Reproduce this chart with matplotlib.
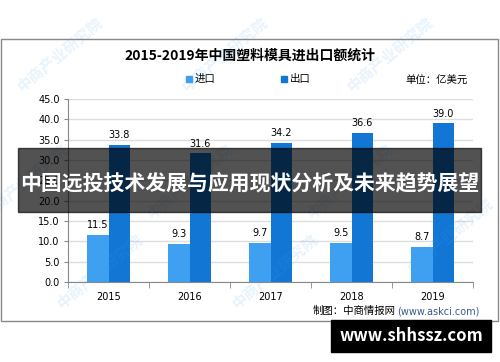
import matplotlib.pyplot as plt
import matplotlib.patches as patches
import numpy as np

plt.rcParams['font.family'] = ['Noto Sans CJK SC', 'DejaVu Sans']

# data
years = ['2015', '2016', '2017', '2018', '2019']
imports = [11.5, 9.3, 9.7, 9.5, 8.7]
exports = [33.8, 31.6, 34.2, 36.6, 39.0]
yticks = [0, 5, 10, 15, 20, 25, 30, 35, 40, 45]

c_imp = '#3f9ff0'
c_exp = '#1277d4'

fig = plt.figure(figsize=(5.0, 3.62), dpi=100)
fig.patch.set_facecolor('white')

# outer frame of the chart
fig.add_artist(patches.Rectangle((0.002, 1 - 321 / 362), 0.994, (321 - 39) / 362,
                                 transform=fig.transFigure, fill=False,
                                 edgecolor='#888888', linewidth=1.0))

ax = fig.add_axes([0.136, 0.221, 0.81, 0.5055])
x = np.arange(len(years))
w = 0.26
ax.bar(x - w / 2, imports, w, color=c_imp, zorder=3)
ax.bar(x + w / 2, exports, w, color=c_exp, zorder=3)
for i in range(len(years)):
    ax.text(x[i] - w / 2, imports[i] + 1.2, f'{imports[i]:.1f}', ha='center',
            va='bottom', fontsize=7, family='DejaVu Sans')
    ax.text(x[i] + w / 2, exports[i] + 1.2, f'{exports[i]:.1f}', ha='center',
            va='bottom', fontsize=7, family='DejaVu Sans')

ax.set_xlim(-0.5, 4.5)
ax.set_ylim(0, 45)
ax.set_yticks(yticks)
ax.set_yticklabels([f'{v:.1f}' for v in yticks], fontsize=7, family='DejaVu Sans')
ax.set_xticks(x)
ax.set_xticklabels(years, fontsize=7, family='DejaVu Sans')
ax.tick_params(axis='x', length=0, pad=7)
ax.tick_params(axis='y', length=3, color='#888888', pad=3)
ax.set_xticks(np.arange(-0.5, 5.0, 1.0), minor=True)
ax.tick_params(axis='x', which='minor', length=4, color='#888888')
ax.grid(axis='y', color='#dddddd', linewidth=1.0, zorder=0)
for s in ['top', 'right']:
    ax.spines[s].set_visible(False)
ax.spines['left'].set_color('#888888')
ax.spines['bottom'].set_color('#888888')

# title and legend
fig.text(0.5, 1 - 56 / 362, '2015-2019年中国塑料模具进出口额统计', ha='center',
         va='center', fontsize=10, fontweight='bold')
fig.add_artist(patches.Rectangle((0.372, 1 - 82 / 362), 0.012, 6 / 362,
                                 transform=fig.transFigure, color=c_imp))
fig.text(0.39, 1 - 79 / 362, '进口', ha='left', va='center', fontsize=7.5)
fig.add_artist(patches.Rectangle((0.562, 1 - 82 / 362), 0.012, 6 / 362,
                                 transform=fig.transFigure, color=c_exp))
fig.text(0.58, 1 - 79 / 362, '出口', ha='left', va='center', fontsize=7.5)
fig.text(0.935, 1 - 81 / 362, '单位：亿美元', ha='right', va='center', fontsize=7.5)

# source
fig.text(0.626, 1 - 311 / 362, '制图：中商情报网', ha='left', va='center', fontsize=7.5)
fig.text(0.794, 1 - 311 / 362, '(www.askci.com)', ha='left', va='center',
         fontsize=7, color='#3a5a8a', family='DejaVu Sans')

# faint watermarks
for wx, wy in [(0.12, 0.85), (0.45, 0.85), (0.78, 0.85), (0.05, 0.5), (0.38, 0.5),
               (0.7, 0.5), (0.2, 0.25), (0.55, 0.25), (0.9, 0.35)]:
    fig.text(wx, wy, '中商产业研究院', rotation=40, fontsize=11, color='#3f9ff0',
             alpha=0.12, ha='center', va='center', fontweight='bold')

# dark banner across the middle
fig.add_artist(patches.Rectangle((0.036, 1 - 212 / 362), 0.926, 64 / 362,
                                 transform=fig.transFigure, color='black',
                                 alpha=0.68, zorder=10))
fig.text(0.5, 1 - 183 / 362, '中国远投技术发展与应用现状分析及未来趋势展望',
         ha='center', va='center', fontsize=15, fontweight='bold',
         color='white', zorder=11)

# black site box
fig.add_artist(patches.Rectangle((0.662, 1 - 352 / 362), 0.32, 32 / 362,
                                 transform=fig.transFigure, color='black', zorder=10))
fig.text(0.822, 1 - 336 / 362, 'www.shhssz.com', ha='center', va='center',
         fontsize=12, fontweight='bold', color='white', zorder=11)

fig.savefig('out.png', dpi=100)
